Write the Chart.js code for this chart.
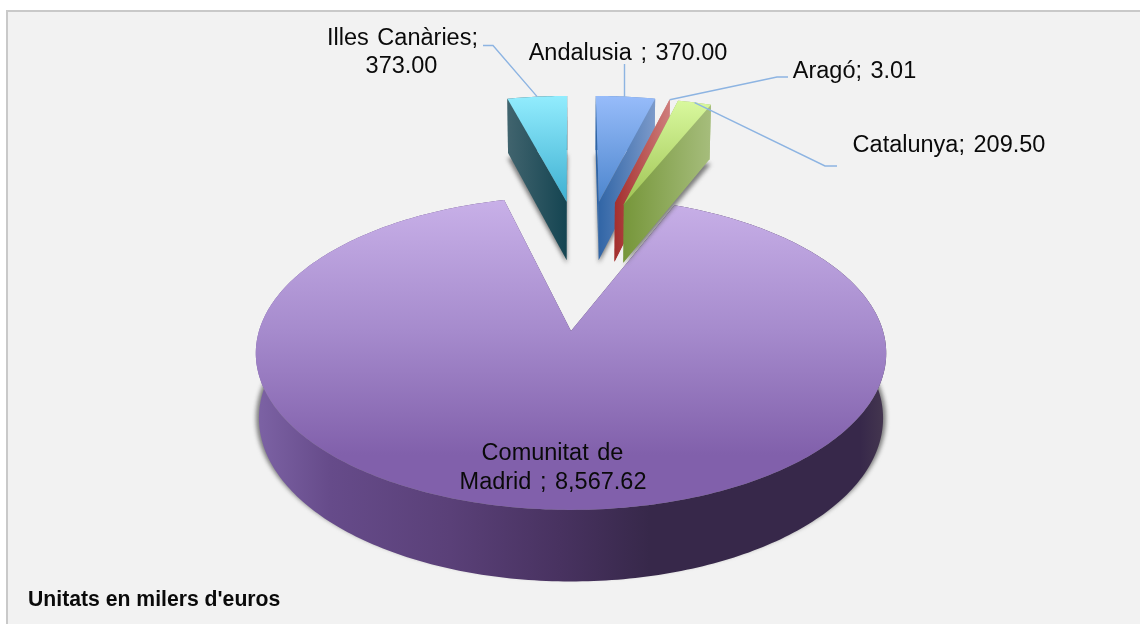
<!DOCTYPE html>
<html><head><meta charset="utf-8">
<script src="https://cdn.jsdelivr.net/npm/chart.js@4"></script>
<style>
html,body{margin:0;padding:0;background:#fff;overflow:hidden}
#frame{position:absolute;left:6px;top:10px;width:1140px;height:620px;background:#f2f2f2;border:2px solid #c9c9c9}
canvas{position:absolute;left:0;top:0}
</style></head><body>
<div id="frame"></div>
<canvas id="c" width="1140" height="624"></canvas>
<script>
// ---- data (clockwise from 12 o'clock) ----
const categories = ["Andalusia", "Aragó", "Catalunya", "Comunitat de Madrid", "Illes Canàries"];
const values = [370.00, 3.01, 209.50, 8567.62, 373.00];
const valueLabels = ["370.00", "3.01", "209.50", "8,567.62", "373.00"];
const note = "Unitats en milers d'euros";

// ---- styles ----
const topStops = [
  [[96,"#97BCFA"],[205,"#4A84CC"]],
  [[100,"#D0807E"],[205,"#A83432"]],
  [[100,"#D9F99E"],[205,"#9FC354"]],
  [[200,"#C8B0E8"],[330,"#A68BCD"],[455,"#8160AB"]],
  [[95,"#93EDFE"],[203,"#3DAFD1"]]
];
const sideStops = [
  [[597,"#2F64A5"],[655,"#7C9ACA"]],
  [[614,"#A32E2D"],[670,"#CF7E7C"]],
  [[623,"#76963A"],[711,"#A6BD7C"]],
  [[258,"#7C62A4"],[330,"#664B8A"],[450,"#5A4078"],[560,"#483260"],[650,"#37284A"],[860,"#37284A"],[882,"#43354F"]],
  [[507,"#41646E"],[566,"#154552"]]
];
const drawOrder = [3, 4, 0, 1, 2];
const leaderColor = "#8DB4E2";
const FONT = '"Liberation Sans", Arial, sans-serif';
const EXPLODE = 0.48, PERSP = 0.1417, XK = 1.065, YK = 0.524, SMALL_SHIFT = 0.01;

const pie3d = {
  id: "pie3d",
  beforeDatasetDraw(chart) {
    const ctx = chart.ctx, arcs = chart.getDatasetMeta(0).data;
    const g = arcs[0], cx = g.x, cy = g.y, r = g.outerRadius;
    const Rx = r * XK, Ry = r * YK;
    const mid = a => (a.startAngle + a.endAngle) / 2;
    const big = arcs[3];
    const Cx = -EXPLODE * Math.cos(mid(big)), Cy = -EXPLODE * Math.sin(mid(big));
    const proj = (X, Y) => {
      const s = 1 / (1 - PERSP * Y);
      return { x: cx + Rx * X * s, y: cy + Ry * Y * s, s };
    };
    const bottom = p => ({ x: cx + (p.x - cx) * 0.99, y: p.y + 18 + 46 * p.s, s: p.s });
    const shadow = p => {
      const b = bottom(p);
      return { x: cx + (b.x - cx) / 0.99 * 0.999, y: b.y + 5 - 8 * (b.y - 153) / 427 };
    };
    const origin = a => ({
      X: Cx + EXPLODE * Math.cos(mid(a)) + (a === big ? 0 : SMALL_SHIFT),
      Y: Cy + EXPLODE * Math.sin(mid(a))
    });
    const facePts = a => {
      const o = origin(a);
      const pts = [proj(o.X, o.Y)], n = Math.max(2, Math.ceil((a.endAngle - a.startAngle) * 60));
      for (let i = 0; i <= n; i++) {
        const t = a.startAngle + (a.endAngle - a.startAngle) * i / n;
        pts.push(proj(o.X + Math.cos(t), o.Y + Math.sin(t)));
      }
      return pts;
    };
    const poly = pts => {
      ctx.beginPath();
      pts.forEach((p, i) => i ? ctx.lineTo(p.x, p.y) : ctx.moveTo(p.x, p.y));
      ctx.closePath();
    };
    const grad = (stops, vertical) => {
      const a = stops[0][0], b = stops[stops.length - 1][0];
      const l = vertical ? ctx.createLinearGradient(0, a, 0, b) : ctx.createLinearGradient(a, 0, b, 0);
      stops.forEach(s => l.addColorStop((s[0] - a) / (b - a), s[1]));
      return l;
    };
    chart.$leaderEnds = arcs.map(a => {
      const o = origin(a);
      return proj(o.X + Math.cos(mid(a)), o.Y + Math.sin(mid(a)));
    });
    drawOrder.forEach(i => {
      const pts = facePts(arcs[i]);
      ctx.save();
      // soft shadow beneath the block
      ctx.filter = "blur(2px)";
      ctx.fillStyle = "rgba(95,95,95,0.8)";
      poly(pts.map(shadow));
      ctx.fill();
      ctx.filter = "none";
      // extruded walls
      const bot = pts.map(bottom);
      ctx.fillStyle = grad(sideStops[i], false);
      const wall = (u, v) => { poly([u, v, bot[pts.indexOf(v)], bot[pts.indexOf(u)]]); ctx.fill(); };
      wall(pts[0], pts[1]);
      wall(pts[0], pts[pts.length - 1]);
      poly(pts.slice(1).concat(bot.slice(1).reverse()));
      ctx.fill();
      // top face
      ctx.fillStyle = grad(topStops[i], true);
      poly(pts);
      ctx.fill();
      ctx.restore();
    });
    return false;
  },
  afterDatasetsDraw(chart) {
    const ctx = chart.ctx, e = chart.$leaderEnds;
    ctx.save();
    ctx.strokeStyle = leaderColor;
    ctx.lineWidth = 1.4;
    const line = pts => {
      ctx.beginPath();
      pts.forEach((p, i) => i ? ctx.lineTo(p[0], p[1]) : ctx.moveTo(p[0], p[1]));
      ctx.stroke();
    };
    line([[483, 45.5], [493, 45.5], [e[4].x, e[4].y]]);
    line([[624.5, 64], [624.5, e[0].y]]);
    line([[788, 77], [777, 77], [e[1].x, e[1].y]]);
    line([[837, 166], [825, 166], [e[2].x, e[2].y]]);

    ctx.fillStyle = "#0a0a0a";
    ctx.textBaseline = "middle";
    ctx.textAlign = "center";
    ctx.font = "23.5px " + FONT;
    ctx.wordSpacing = "2px";
    const n = categories, v = valueLabels;
    ctx.fillText(n[4] + ";", 402.5, 38.5);
    ctx.fillText(v[4], 401.5, 66.5);
    ctx.fillText(n[0] + " ; " + v[0], 628, 53.5);
    ctx.fillText(n[1] + "; " + v[1], 854.5, 71.5);
    ctx.fillText(n[2] + "; " + v[2], 949, 145.5);
    const words = n[3].split(" ");
    ctx.fillText(words[0] + " " + words[1], 552.5, 453.5);
    ctx.fillText(words[2] + " ; " + v[3], 553, 482.5);
    ctx.textAlign = "left";
    ctx.wordSpacing = "0px";
    ctx.font = "bold 21.2px " + FONT;
    ctx.fillText(note, 28, 600);
    ctx.restore();
  }
};

new Chart(document.getElementById("c"), {
  type: "pie",
  data: { labels: categories, datasets: [{ data: values, borderWidth: 0 }] },
  options: {
    responsive: false,
    animation: false,
    rotation: 0,
    layout: { padding: { top: 38, left: 2 } },
    plugins: { legend: { display: false }, tooltip: { enabled: false }, title: { display: false } }
  },
  plugins: [pie3d]
});
</script>
</body></html>
